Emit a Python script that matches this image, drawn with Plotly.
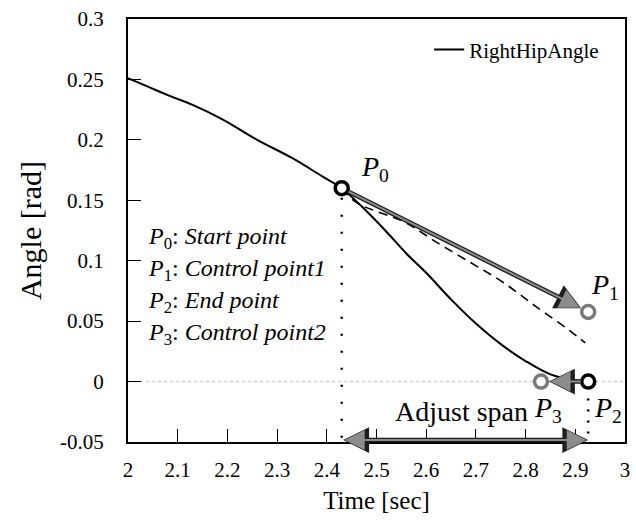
import plotly.graph_objects as go

# ---- data ----
hip_x = [2.0, 2.04, 2.08, 2.13, 2.19, 2.26, 2.33, 2.39, 2.43,
         2.47, 2.52, 2.56, 2.60, 2.65, 2.70, 2.75, 2.80, 2.85, 2.90, 2.926]
hip_y = [0.251, 0.244, 0.237, 0.229, 0.217, 0.200, 0.185, 0.170, 0.160,
         0.145, 0.124, 0.106, 0.090, 0.068, 0.048, 0.031, 0.017, 0.006, 0.001, 0.0]

bez_x = [2.43, 2.46, 2.556, 2.622, 2.687, 2.755, 2.821, 2.886, 2.92]
bez_y = [0.160, 0.148, 0.132, 0.115, 0.099, 0.082, 0.062, 0.043, 0.032]

pt_names = ["0", "1", "2", "3"]
pt_x = [2.43, 2.926, 2.926, 2.831]
pt_y = [0.160, 0.0576, 0.0, 0.0]
lab_x = [2.497, 2.960, 2.966, 2.846]
lab_y = [0.176, 0.0783, -0.0235, -0.0235]

desc = ["Start point", "Control point1", "End point", "Control point2"]
desc_y = [0.1188, 0.0923, 0.0658, 0.0394]
desc_x = 2.036

span_y = -0.0484
span_text = "Adjust span"
span_text_x = 2.671
span_text_y = -0.025

x_ticks = [2, 2.1, 2.2, 2.3, 2.4, 2.5, 2.6, 2.7, 2.8, 2.9, 3]
x_tick_labels = ["2", "2.1", "2.2", "2.3", "2.4", "2.5", "2.6", "2.7", "2.8", "2.9", "3"]
y_ticks = [-0.05, 0, 0.05, 0.1, 0.15, 0.2, 0.25, 0.3]
y_tick_labels = ["-0.05", "0", "0.05", "0.1", "0.15", "0.2", "0.25", "0.3"]

FONT = "Liberation Serif"

fig = go.Figure()

# faint zero line
fig.add_trace(go.Scatter(x=[2, 3], y=[0, 0], mode="lines",
                         line=dict(color="#cfcfcf", width=1.5, dash="dot"),
                         showlegend=False, hoverinfo="skip"))
# vertical dotted guides
fig.add_trace(go.Scatter(x=[pt_x[0], pt_x[0]], y=[pt_y[0] - 0.008, -0.05], mode="lines",
                         line=dict(color="black", width=2.5, dash="2px,15px"),
                         showlegend=False, hoverinfo="skip"))
fig.add_trace(go.Scatter(x=[pt_x[2], pt_x[2]], y=[pt_y[2] - 0.014, -0.05], mode="lines",
                         line=dict(color="black", width=2.5, dash="2px,9px"),
                         showlegend=False, hoverinfo="skip"))

fig.add_trace(go.Scatter(x=hip_x, y=hip_y, mode="lines", name="RightHipAngle",
                         line=dict(color="black", width=2, shape="spline")))
fig.add_trace(go.Scatter(x=bez_x, y=bez_y, mode="lines",
                         line=dict(color="black", width=1.6, dash="9px,6px", shape="spline"),
                         showlegend=False))

# arrows (dark outline + gray body)
def arrow(x0, y0, x1, y1, both=False, s0=8, s1=6):
    layers = (("#1e1e1e", 4.5, 1.15, 0), ("#8c8c8c", 2.0, 2.0, 1.5))
    for col, w, sz, extra in layers:
        fig.add_annotation(x=x1, y=y1, ax=x0, ay=y0, xref="x", yref="y",
                           axref="x", ayref="y", text="", showarrow=True,
                           arrowhead=2, arrowsize=sz, arrowwidth=w, arrowcolor=col,
                           arrowside="end+start" if both else "end",
                           standoff=s0 + extra, startstandoff=s1 + (extra if both else 0))

arrow(pt_x[0], pt_y[0], pt_x[1], pt_y[1], s0=8, s1=6)
arrow(pt_x[2], pt_y[2], pt_x[3], pt_y[3], s0=8, s1=6)
arrow(pt_x[0], span_y, pt_x[2], span_y, both=True, s0=0, s1=0)

# control points
pt_colors = ["black", "#7a7a7a", "black", "#7a7a7a"]
fig.add_trace(go.Scatter(x=pt_x, y=pt_y, mode="markers",
                         marker=dict(symbol="circle", size=13, color="white",
                                     line=dict(color=pt_colors, width=3.5)),
                         showlegend=False))

# point labels
for name, lx, ly in zip(pt_names, lab_x, lab_y):
    fig.add_annotation(x=lx, y=ly, xref="x", yref="y", showarrow=False,
                       text=f"<i>P</i><sub>{name}</sub>",
                       font=dict(family=FONT, size=28, color="black"))

fig.add_annotation(x=span_text_x, y=span_text_y, xref="x", yref="y", showarrow=False,
                   text=span_text, font=dict(family=FONT, size=28, color="black"))

for i, (d, dy) in enumerate(zip(desc, desc_y)):
    fig.add_annotation(x=desc_x, y=dy, xref="x", yref="y", showarrow=False,
                       xanchor="left",
                       text=f"<i>P</i><sub>{i}</sub>: <i>{d}</i>",
                       font=dict(family=FONT, size=24, color="black"))

fig.update_layout(
    width=636, height=522,
    margin=dict(l=128, r=6, t=19, b=80),
    paper_bgcolor="white", plot_bgcolor="white",
    font=dict(family=FONT, color="black"),
    showlegend=True,
    legend=dict(x=0.606, y=0.927, xanchor="left", yanchor="middle",
                bgcolor="rgba(0,0,0,0)", font=dict(family=FONT, size=21)),
    xaxis=dict(range=[2, 3], tickvals=x_ticks, ticktext=x_tick_labels,
               ticks="inside", ticklen=13, tickwidth=1, tickcolor="black",
               showline=True, linecolor="black", linewidth=2, mirror=True,
               showgrid=False, zeroline=False, ticklabelstandoff=8,
               tickfont=dict(family=FONT, size=21),
               title=dict(text="Time [sec]", font=dict(family=FONT, size=25), standoff=10)),
    yaxis=dict(range=[-0.05, 0.3], tickvals=y_ticks, ticktext=y_tick_labels,
               ticks="inside", ticklen=13, tickwidth=1, tickcolor="black",
               showline=True, linecolor="black", linewidth=2, mirror=True,
               showgrid=False, zeroline=False, ticklabelstandoff=18,
               tickfont=dict(family=FONT, size=21),
               title=dict(text="Angle [rad]", font=dict(family=FONT, size=30), standoff=10)),
)

fig.write_html("out.html")
